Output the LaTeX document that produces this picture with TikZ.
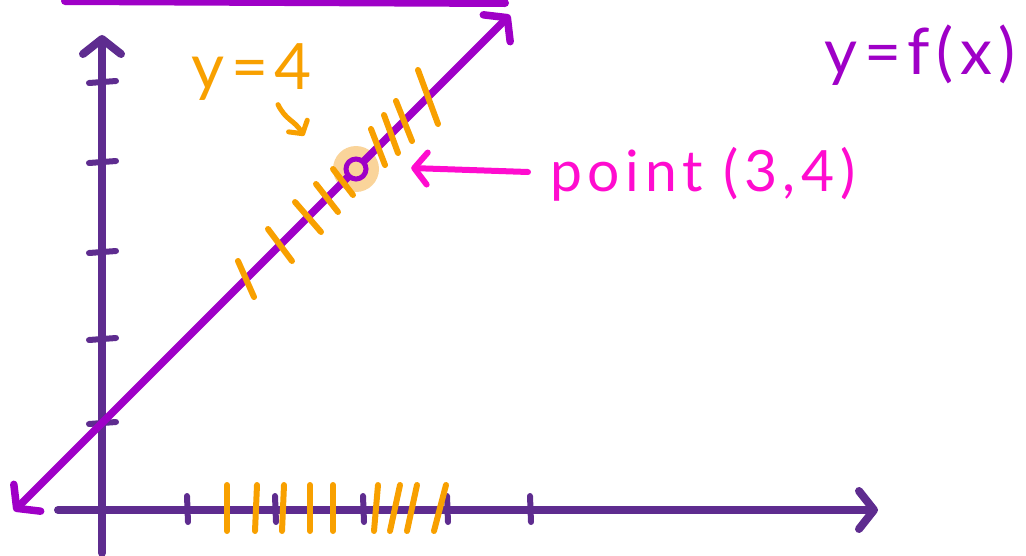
\documentclass[tikz,border=0pt]{standalone}
\usepackage{fontspec}
\setmainfont{Lato}
\newfontfamily\handfont[LetterSpace=10]{Lato}
\usetikzlibrary{arrows.meta}

\definecolor{axisviolet}{HTML}{5E2C8F}
\definecolor{lineviolet}{HTML}{9F00C7}
\definecolor{markorange}{HTML}{F8A000}
\definecolor{glow}{HTML}{FAD49A}
\definecolor{hotpink}{HTML}{FF0CCF}

\begin{document}
\begin{tikzpicture}[
  x=1pt,y=-1pt,
  axis/.style={draw=axisviolet,line width=8pt,line cap=round},
  fline/.style={draw=lineviolet,line width=7.5pt,line cap=round},
  hatch/.style={draw=markorange,line width=6pt,line cap=round},
  barb/.style={-{Straight Barb[round,length=15pt,width=38pt]}},
  lbl/.style={font=\handfont\fontsize{64}{70}\selectfont,inner sep=0pt}
]
\useasboundingbox (0,0) rectangle (1026,555);

% axes
\coordinate (ybot) at (102,553);
\coordinate (ytop) at (102,35);
\coordinate (xleft) at (58,510);
\coordinate (xright) at (878,510);
\draw[axis,barb] (ybot) -- (ytop);
\draw[axis,barb] (xleft) -- (xright);
\foreach \y in {83,163,253,340,424}
  \draw[axis,line width=6pt] (89,\y) -- (116,{\y-2});
\foreach \x in {187,275,363,447,530}
  \draw[axis,line width=6pt] (\x,496) -- ({\x+1},522);

% the point, under the line
\node[circle,fill=glow,minimum size=46pt,inner sep=0pt] (pt) at (356,169) {};

% the line y=f(x)
\draw[fline,line width=8pt] (65,1) -- (505,3);
\coordinate (fdown) at (14,511);
\coordinate (fup) at (510,15);
\draw[fline,{Straight Barb[round,length=15pt,width=38pt]}-{Straight Barb[round,length=15pt,width=38pt]}] (fdown) -- (fup);

% orange marks
\foreach \cx/\cy/\dx/\dy in {246/279/8/18,280/245/12/16,308/217/13/15,327/198/11/14,343/182/10/13,
                             378/147/7/18,391/134/7/19,404/121/8/20,428/97/10/27}
  \draw[hatch] ({\cx-\dx},{\cy-\dy}) -- ({\cx+\dx},{\cy+\dy});
\foreach \x/\s in {227/0,256/1,283/1,310/0,333/0,376/2,395/5,412/5,440/6}
  \draw[hatch] ({\x-\s},531) -- ({\x+\s},485);

\node[circle,draw=lineviolet,line width=5pt,fill=glow,minimum size=20pt,inner sep=0pt] (ptdot) at (pt) {};

% labels
\node[lbl,text=markorange] (yfour) at (252,72) {y=4};
\node[lbl,text=hotpink,anchor=west,font=\handfont\fontsize{57}{62}\selectfont] (ptlabel) at (550,174) {point (3,4)};
\node[lbl,text=lineviolet] (feq) at (920,55) {y=f(x)};

\draw[hatch,line width=5pt,-{Straight Barb[round,length=9pt,width=22pt]}]
  ([xshift=26pt,yshift=-4pt]yfour.south) .. controls +(8,16) and +(-10,-16) .. ([xshift=-52pt,yshift=10pt]pt.north);
\draw[draw=hotpink,line width=6pt,line cap=round,-{Straight Barb[round,length=13pt,width=32pt]}]
  ([xshift=-22pt,yshift=2pt]ptlabel.west) -- ([xshift=32pt,yshift=1pt]pt.east);
\end{tikzpicture}
\end{document}
